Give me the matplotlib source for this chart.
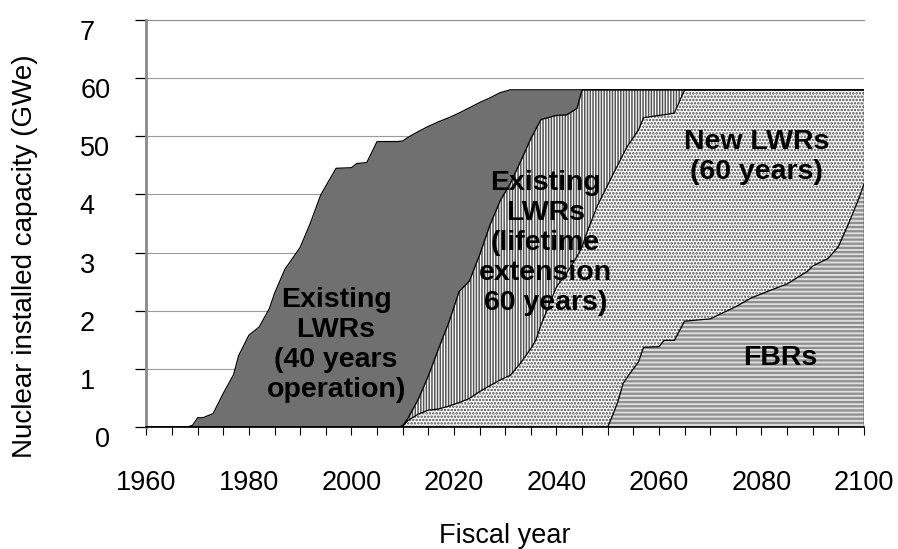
import matplotlib
matplotlib.use("Agg")
import matplotlib.pyplot as plt
import numpy as np

plt.rcParams["font.family"] = ["Liberation Sans", "DejaVu Sans"]
plt.rcParams["hatch.linewidth"] = 0.9

years = [1960, 1968, 1969, 1970, 1971, 1973, 1975, 1977, 1978, 1980,
         1982, 1984, 1985, 1987, 1990, 1992, 1994, 1997, 2000, 2001,
         2003, 2005, 2009, 2010, 2011, 2013, 2015, 2017, 2019, 2021,
         2023, 2025, 2027, 2029, 2031, 2033, 2035, 2036, 2037, 2040,
         2042, 2044, 2045, 2046, 2048, 2050, 2051, 2052, 2053, 2054,
         2056, 2057, 2060, 2061, 2063, 2065, 2070, 2075, 2078, 2082,
         2085, 2089, 2090, 2093, 2095, 2097, 2099, 2100]

# installed capacity per category, GWe
lwr_40 = [0, 0, 0.3, 1.6, 1.6, 2.3, 5.8, 9.0, 12.3, 15.8,
          17.2, 20.4, 23.0, 27.1, 30.9, 35.1, 39.9, 44.5, 44.6, 45.3,
          45.5, 49.1, 49.1, 49.0, 48.3, 46.1, 42.9, 39.0, 35.2, 30.7,
          29.8, 26.2, 21.9, 18.6, 16.1, 12.3, 8.4, 6.7, 5.1, 4.4,
          4.3, 3.2, 0, 0, 0, 0, 0, 0, 0, 0,
          0, 0, 0, 0, 0, 0, 0, 0, 0, 0,
          0, 0, 0, 0, 0, 0, 0, 0]
lwr_ext = [0, 0, 0, 0, 0, 0, 0, 0, 0, 0,
           0, 0, 0, 0, 0, 0, 0, 0, 0, 0,
           0, 0, 0, 0.1, 0.4, 2.5, 5.9, 10.4, 14.4, 19.1,
           20.2, 23.5, 27.6, 30.8, 33.0, 34.7, 36.1, 36.3, 35.3, 29.5,
           27.2, 25.5, 27.0, 24.4, 19.9, 16.4, 14.6, 12.9, 11.1, 9.5,
           6.9, 4.8, 4.4, 4.3, 4.0, 0, 0, 0, 0, 0,
           0, 0, 0, 0, 0, 0, 0, 0]
lwr_new = [0, 0, 0, 0, 0, 0, 0, 0, 0, 0,
           0, 0, 0, 0, 0, 0, 0, 0, 0, 0,
           0, 0, 0, 0.1, 1.1, 2.2, 2.9, 3.1, 3.6, 4.2,
           4.9, 6.1, 7.1, 8.1, 8.9, 11.0, 13.5, 15.0, 17.6, 24.1,
           26.5, 29.3, 31.0, 33.6, 38.1, 41.6, 41.3, 40.7, 39.4, 39.7,
           39.9, 39.5, 39.8, 38.8, 39.1, 39.8, 39.4, 37.3, 35.8, 34.4,
           33.4, 31.2, 30.3, 29.0, 27.0, 23.0, 18.7, 16.2]
fbr = [0, 0, 0, 0, 0, 0, 0, 0, 0, 0,
       0, 0, 0, 0, 0, 0, 0, 0, 0, 0,
       0, 0, 0, 0, 0, 0, 0, 0, 0, 0,
       0, 0, 0, 0, 0, 0, 0, 0, 0, 0,
       0, 0, 0, 0, 0, 0, 2.1, 4.4, 7.5, 8.8,
       11.2, 13.7, 13.8, 14.9, 14.9, 18.2, 18.6, 20.7, 22.2, 23.6,
       24.6, 26.8, 27.7, 29.0, 31.0, 35.0, 39.3, 41.8]

x_ticks = [1960, 1980, 2000, 2020, 2040, 2060, 2080, 2100]
y_ticks = [0, 10, 20, 30, 40, 50, 60, 70]
# the original chart lost the trailing zero on several labels;
# a figure space keeps them left-aligned with "50" / "60"
y_tick_labels = ["0", "1\u2007", "2\u2007", "3\u2007", "4\u2007", "50", "60", "7\u2007"]

fig = plt.figure(figsize=(8.98, 5.49), dpi=100)
ax = fig.add_axes([0.1631, 0.2222, 0.799, 0.7413])

layers = ax.stackplot(years, fbr, lwr_new, lwr_ext, lwr_40,
                      colors=["#dedede", "white", "white", "#707070"])
styles = [("#8f8f8f", "----", 1.6),    # FBRs, grey stripes
          ("#4a4a4a", ".....", 1.2),   # new LWRs, dots
          ("#555555", "||||||", 1.1),  # lifetime extension, vertical lines
          ("#707070", None, 0.8)]      # existing LWRs, solid
for coll, (ec, hatch, hlw) in zip(layers, styles):
    coll.set_edgecolor(ec)
    coll.set_linewidth(0)
    if hatch:
        coll.set_hatch(hatch)
        if hasattr(coll, "set_hatch_linewidth"):
            coll.set_hatch_linewidth(hlw)

# black outlines between the stacked layers
tops = np.cumsum(np.vstack([fbr, lwr_new, lwr_ext, lwr_40]), axis=0)
for row in tops:
    ax.plot(years, row, color="black", lw=0.9, zorder=3)
ax.plot([years[-1], years[-1]], [0, tops[-1][-1]], color="black", lw=1.0, zorder=3)

ax.set_xlim(1960, 2100)
ax.set_ylim(0, 70)
ax.set_xticks(x_ticks)
ax.set_xticks(range(1960, 2101, 5), minor=True)
ax.set_yticks(y_ticks)
ax.set_yticklabels(y_tick_labels)
ax.tick_params(axis="x", which="both", direction="out", length=6, width=0.8,
               color="black", labelsize=19.5, pad=25)
ax.tick_params(axis="y", direction="out", length=8, width=0.9,
               color="black", labelsize=19.5, pad=18)
for lab in ax.get_yticklabels():
    lab.set_verticalalignment("top")

ax.yaxis.grid(True, color="#9a9a9a", lw=0.8)
ax.set_axisbelow(True)
ax.spines["right"].set_visible(False)
ax.spines["top"].set_color("#8c8c8c")
ax.spines["top"].set_linewidth(0.8)
ax.spines["left"].set_color("#8a8a8a")
ax.spines["left"].set_linewidth(2.0)
ax.spines["bottom"].set_color("black")
ax.spines["bottom"].set_linewidth(1.2)

ax.set_xlabel("Fiscal year", fontsize=19.5)
ax.xaxis.set_label_coords(0.5, -0.235)
ax.set_ylabel("Nuclear installed capacity (GWe)", fontsize=20)
ax.yaxis.set_label_coords(-0.151, 0.42)

lbl = dict(ha="center", va="center", fontsize=20.5, fontweight="bold",
           multialignment="center", zorder=4)
ax.text(1997.0, 14.1, "Existing\nLWRs\n(40 years\noperation)", **lbl)
ax.text(2037.8, 31.7, "Existing\nLWRs\n(lifetime\nextension\n60 years)", **lbl)
ax.text(2079.1, 46.4, "New LWRs\n(60 years)", **lbl)
ax.text(2083.6, 11.9, "FBRs", **lbl)

fig.savefig("out.png", dpi=100)
